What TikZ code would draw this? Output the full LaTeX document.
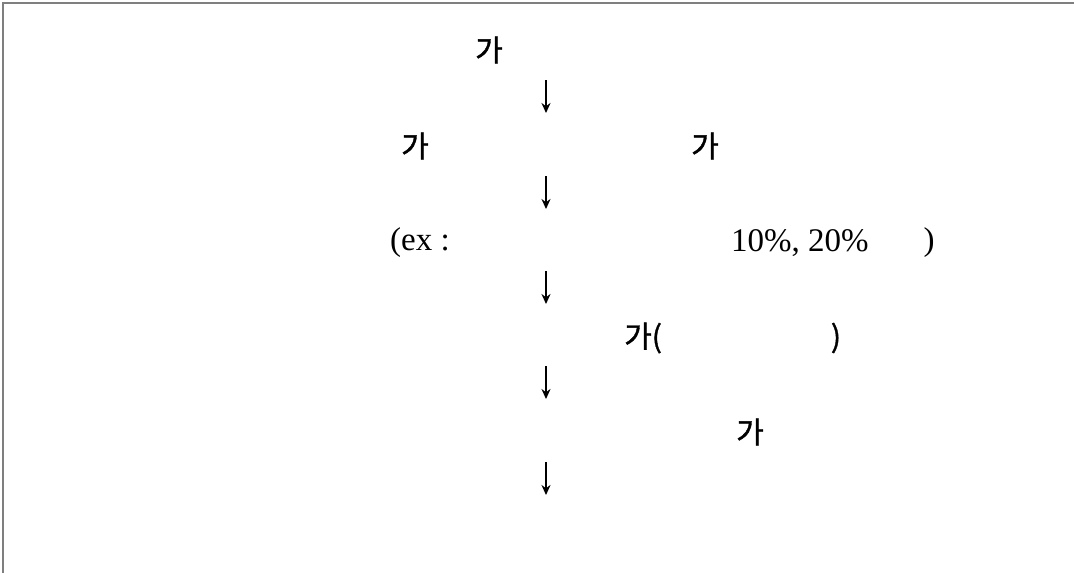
\documentclass[tikz,border=0pt]{standalone}
\usepackage{fontspec}
\setmainfont{Liberation Serif}
\newfontfamily\krfont[FakeBold=1.2]{Noto Sans CJK KR}
\usetikzlibrary{arrows.meta}
\definecolor{FrameGray}{HTML}{7F7F7F}
\definecolor{FlowInk}{HTML}{000000}
\tikzset{
  krlabel/.style={font=\krfont\fontsize{30}{34}\selectfont, text=FlowInk, inner sep=0pt},
  exlabel/.style={font=\fontsize{33}{38}\selectfont, text=FlowInk, inner sep=0pt},
  downarrow/.style={-{Stealth[length=10pt,width=9pt]}, line width=1.6pt, draw=FlowInk},
  framerule/.style={draw=FrameGray, line width=2pt}
}
\begin{document}
\begin{tikzpicture}[x=1pt,y=-1pt]
\useasboundingbox (0,0) rectangle (1074,573);
\draw[framerule] (3,573) -- (3,3) -- (1074,3);
% steps
\node[krlabel] (stepa) at (489,50) {가};
\node[krlabel] (stepbl) at (415,146) {가};
\node[krlabel] (stepbr) at (705,146) {가};
\node[exlabel, anchor=west] (exopen) at (390,243) {(ex :};
\node[exlabel, anchor=west] (exvals) at (731,243) {10\%, 20\%};
\node[exlabel] (exclose) at (929,243) {)};
\node[krlabel, anchor=west] (stepd) at (624,338) {가(};
\node[krlabel] (stepdclose) at (836,338) {)};
\node[krlabel] (stepe) at (750,432) {가};
% arrows
\coordinate (a1s) at (546,80);  \coordinate (a1e) at (546,113);
\coordinate (a2s) at (546,176); \coordinate (a2e) at (546,209);
\coordinate (a3s) at (546,271); \coordinate (a3e) at (546,304);
\coordinate (a4s) at (546,366); \coordinate (a4e) at (546,399);
\coordinate (a5s) at (546,462); \coordinate (a5e) at (546,495);
\draw[downarrow] (a1s) -- (a1e);
\draw[downarrow] (a2s) -- (a2e);
\draw[downarrow] (a3s) -- (a3e);
\draw[downarrow] (a4s) -- (a4e);
\draw[downarrow] (a5s) -- (a5e);
\end{tikzpicture}
\end{document}
